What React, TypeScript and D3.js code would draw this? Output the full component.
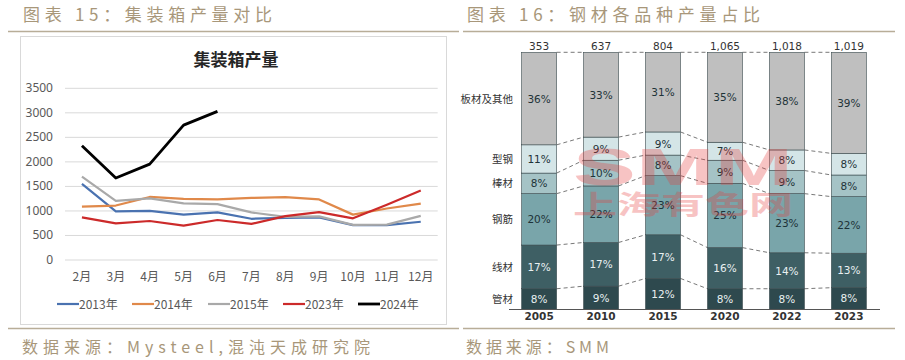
import React from "react";
import * as d3 from "d3";

const months = ["2月", "3月", "4月", "5月", "6月", "7月", "8月", "9月", "10月", "11月", "12月"];
const yTicks = [0, 500, 1000, 1500, 2000, 2500, 3000, 3500];
const s2013 = [1550, 990, 1000, 925, 970, 840, 860, 870, 710, 710, 780];
const s2014 = [1090, 1110, 1285, 1245, 1235, 1265, 1280, 1235, 925, 1050, 1150];
const s2015 = [1700, 1205, 1255, 1155, 1140, 970, 880, 890, 715, 720, 900];
const s2023 = [870, 745, 795, 700, 815, 735, 895, 975, 850, 1125, 1415];
const s2024 = [2330, 1670, 1955, 2750, 3030];
const seriesNames = ["2013年", "2014年", "2015年", "2023年", "2024年"];
const seriesColors = ["#4a72b0", "#e0894a", "#a9a9a9", "#cc2a2a", "#000000"];

const years = ["2005", "2010", "2015", "2020", "2022", "2023"];
const totals = ["353", "637", "804", "1,065", "1,018", "1,019"];
const categories = ["管材", "线材", "钢筋", "棒材", "型钢", "板材及其他"];
const pGuan = [8, 9, 12, 8, 8, 8.4];
const pXian = [17, 17, 17, 16, 14, 13.4];
const pJin = [20, 22, 23, 25, 23, 22];
const pBang = [8, 10, 8, 9, 9, 8.4];
const pXing = [11, 9, 9, 7, 8, 8.4];
const pBan = [36, 33, 31, 35, 38, 39.3];
const segColors = ["#2e494e", "#3e5f64", "#79a5aa", "#a5c3c6", "#d4e5e7", "#bfbfbf"];
const segText = ["#e9f0f1", "#e9f0f1", "#1e3338", "#1e3338", "#1e3338", "#1e3338"];

const TITLE_COLOR = "#a8977a";

function LeftChart() {
  const x = d3.scaleBand<string>().domain(months).range([65, 437.7]);
  const y = d3.scaleLinear().domain([0, 3500]).range([260, 88.3]);
  const cx = (m: string) => (x(m) as number) + x.bandwidth() / 2;
  const all = [s2013, s2014, s2015, s2023, s2024];
  const line = d3
    .line<number>()
    .x((_, i) => cx(months[i]))
    .y((v) => y(v));
  const legendX = [57, 132, 208, 283, 358];
  return (
    <g>
      <rect x={20.5} y={36.5} width={426} height={288} fill="#fff" stroke="#d9d9d9" />
      <text x={236} y={66} textAnchor="middle" fontSize={17} fontWeight="bold" fill="#262626"
        fontFamily="'Noto Sans CJK SC', sans-serif">集装箱产量</text>
      {yTicks.map((t) => (
        <g key={t}>
          <line x1={65} x2={437.7} y1={y(t)} y2={y(t)} stroke="#d9d9d9" strokeWidth={1} />
          <text x={53} y={y(t) + 4} textAnchor="end" fontSize={12} fill="#595959"
            fontFamily="'Noto Sans', sans-serif">{t}</text>
        </g>
      ))}
      {months.map((m) => (
        <text key={m} x={cx(m)} y={281} textAnchor="middle" fontSize={12} fill="#595959"
          fontFamily="'Noto Sans CJK SC', sans-serif">{m}</text>
      ))}
      {all.map((s, i) => (
        <path key={i} d={line(s) || ""} fill="none" stroke={seriesColors[i]}
          strokeWidth={i === 4 ? 2.8 : 2.2} strokeLinejoin="round" />
      ))}
      {seriesNames.map((n, i) => (
        <g key={n}>
          <line x1={legendX[i]} x2={legendX[i] + 22} y1={304} y2={304} stroke={seriesColors[i]}
            strokeWidth={i === 4 ? 2.8 : 2.2} />
          <text x={legendX[i] + 22} y={308.5} fontSize={12} fill="#595959"
            fontFamily="'Noto Sans CJK SC', sans-serif">{n}</text>
        </g>
      ))}
    </g>
  );
}

function RightChart() {
  const x = d3.scaleBand<string>().domain(years).range([508, 880]).paddingInner(0.435).paddingOuter(0.22);
  const y = d3.scaleLinear().domain([0, 1]).range([309.3, 52.3]);
  const rows = years.map((yr, i) => ({
    year: yr,
    管材: pGuan[i], 线材: pXian[i], 钢筋: pJin[i], 棒材: pBang[i], 型钢: pXing[i], 板材及其他: pBan[i],
  }));
  const stack = d3.stack<any>().keys(categories).offset(d3.stackOffsetExpand);
  const layers = stack(rows);
  const bw = x.bandwidth();
  const labelValues = [pGuan, pXian, pJin, pBang, pXing, pBan];
  const font = "'DejaVu Sans', Verdana, sans-serif";
  return (
    <g>
      {/* connectors */}
      {layers.map((layer, li) =>
        years.slice(0, -1).map((yr, i) => (
          <line key={li + "-" + yr}
            x1={(x(yr) as number) + bw} x2={x(years[i + 1]) as number}
            y1={y(layer[i][1])} y2={y(layer[i + 1][1])}
            stroke="#555" strokeWidth={0.8} strokeDasharray="4,3" />
        ))
      )}
      {layers.map((layer, li) =>
        layer.map((d, i) => (
          <g key={li + "-" + i}>
            <rect x={x(years[i])} y={y(d[1])} width={bw} height={y(d[0]) - y(d[1])}
              fill={segColors[li]} stroke="#3a4a4d" strokeWidth={0.6} />
            <text x={(x(years[i]) as number) + bw / 2} y={(y(d[0]) + y(d[1])) / 2 + 4}
              textAnchor="middle" fontSize={10.5} fill={segText[li]} fontFamily={font}>
              {Math.round(labelValues[li][i])}%
            </text>
          </g>
        ))
      )}
      {layers.map((layer, li) => (
        <text key={categories[li]} x={513} y={(y(layer[0][0]) + y(layer[0][1])) / 2 + 4}
          textAnchor="end" fontSize={10.5} fill="#333" fontFamily="'Noto Sans CJK SC', sans-serif">
          {categories[li]}
        </text>
      ))}
      {years.map((yr, i) => (
        <g key={yr}>
          <text x={(x(yr) as number) + bw / 2} y={49.5} textAnchor="middle" fontSize={10.5}
            fill="#333" fontFamily={font}>{totals[i]}</text>
          <text x={(x(yr) as number) + bw / 2} y={320} textAnchor="middle" fontSize={10.5}
            fontWeight="bold" fill="#333" fontFamily={font}>{yr}</text>
        </g>
      ))}
      <line x1={509} x2={880} y1={309.5} y2={309.5} stroke="#555" strokeWidth={1} />
      {/* watermark */}
      <g opacity={0.3} fill="#e83c3c" pointerEvents="none">
        <text x={573} y={185} fontSize={52} fontWeight="bold" textLength={220}
          lengthAdjust="spacingAndGlyphs" fontFamily="'Liberation Sans', Arial, sans-serif">SMM</text>
        <text x={573} y={214} fontSize={26} fontWeight="bold" textLength={220}
          lengthAdjust="spacingAndGlyphs" fontFamily="'Noto Sans CJK SC', sans-serif">上海有色网</text>
      </g>
    </g>
  );
}

export default function App() {
  return (
    <div style={{ position: "absolute", left: 0, top: 0 }}>
      <svg width={905} height={360} style={{ display: "block", background: "#fff" }}>
        <text x={23} y={21} fontSize={17} fill={TITLE_COLOR} textLength={249} lengthAdjust="spacing"
          fontFamily="'Noto Sans CJK SC', sans-serif">图表 15：集装箱产量对比</text>
        <text x={467} y={21} fontSize={17} fill={TITLE_COLOR} textLength={293} lengthAdjust="spacing"
          fontFamily="'Noto Sans CJK SC', sans-serif">图表 16：钢材各品种产量占比</text>
        <line x1={8} x2={459} y1={31.5} y2={31.5} stroke="#b8ad98" strokeWidth={1.5} />
        <line x1={463} x2={895} y1={31.5} y2={31.5} stroke="#b8ad98" strokeWidth={1.5} />
        <LeftChart />
        <RightChart />
        <line x1={8} x2={459} y1={328.5} y2={328.5} stroke="#b8ad98" strokeWidth={1.5} />
        <line x1={463} x2={895} y1={328.5} y2={328.5} stroke="#b8ad98" strokeWidth={1.5} />
        <text x={22} y={353} fontSize={16} fill={TITLE_COLOR} textLength={348} lengthAdjust="spacing"
          fontFamily="'Noto Sans CJK SC', sans-serif">数据来源：Mysteel,混沌天成研究院</text>
        <text x={466} y={353} fontSize={16} fill={TITLE_COLOR} textLength={143} lengthAdjust="spacing"
          fontFamily="'Noto Sans CJK SC', sans-serif">数据来源：SMM</text>
      </svg>
    </div>
  );
}
